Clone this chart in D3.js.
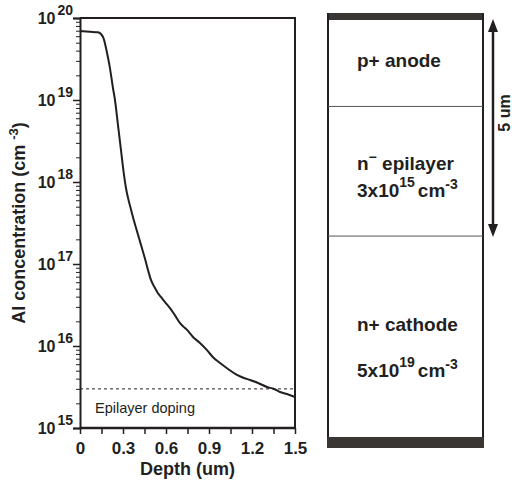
<!DOCTYPE html>
<html><head><meta charset="utf-8">
<script src="https://cdn.jsdelivr.net/npm/d3@7"></script>
<style>body{margin:0;background:#fff}svg{display:block}text{font-family:"Liberation Sans",Arial,sans-serif;fill:#231f20}</style>
</head><body>
<svg id="c" width="512" height="485"></svg>
<script>
// ---- data ----
const depth = [0,0.07,0.126,0.16,0.188,0.209,0.23,0.244,0.265,0.286,0.307,0.321,0.335,0.356,0.377,0.398,0.426,0.454,0.474,0.495,0.523,0.544,0.565,0.593,0.628,0.663,0.698,0.747,0.788,0.837,0.886,0.928,0.977,1.033,1.095,1.144,1.186,1.242,1.305,1.354,1.395,1.444,1.5];
const conc = [6.94e19,6.8e19,6.7e19,5.9e19,3.8e19,2.45e19,1.4e19,1e19,4.95e18,2.45e18,1.22e18,8.4e17,6.4e17,4.6e17,3.35e17,2.5e17,1.7e17,1.15e17,8.5e16,6.4e16,5.1e16,4.4e16,3.96e16,3.44e16,2.9e16,2.36e16,1.9e16,1.57e16,1.29e16,1.09e16,8.9e15,7.3e15,6.2e15,5.25e15,4.43e15,4.07e15,3.85e15,3.54e15,3.16e15,2.99e15,2.75e15,2.6e15,2.39e15];
const xTicks = [0,0.3,0.6,0.9,1.2,1.5];
const xTickLabels = ["0","0.3","0.6","0.9","1.2","1.5"];
const yExponents = [15,16,17,18,19,20];
const epiDoping = 3e15;
const layerNames = ["p+ anode","n\u2212 epilayer","n+ cathode"];
const layerThickness = [2,3,4.65]; // um
const layerDopingBase = [null,"3x10","5x10"];
const layerDopingExp = [null,"15","19"];
const arrowLabel = "5 um";

const ink = "#231f20";
const svg = d3.select("#c");

// ---- left chart ----
const x = d3.scaleLinear().domain([0,1.5]).range([80,295]);
const y = d3.scaleLog().domain([1e15,1e20]).range([428,18]);

// dashed epilayer line
svg.append("line").attr("x1",x(0)).attr("x2",x(1.5)).attr("y1",y(epiDoping)).attr("y2",y(epiDoping))
  .attr("stroke",ink).attr("stroke-width",1).attr("stroke-dasharray","3,3");
svg.append("text").attr("x",95).attr("y",413).attr("font-size",14.5).text("Epilayer doping");

// frame top/right
svg.append("path").attr("d",`M${x(0)},${y(1e20)}H${x(1.5)}V${y(1e15)}`).attr("fill","none").attr("stroke",ink).attr("stroke-width",2);

// y axis with log minor ticks
const yMinor = [];
for (let e=15;e<20;e++) for (let m=2;m<=9;m++) yMinor.push(m*Math.pow(10,e));
const yAxis = d3.axisLeft(y).tickValues(yExponents.map(e=>Math.pow(10,e))).tickSize(7).tickFormat("");
const gy = svg.append("g").attr("transform",`translate(${x(0)},0)`).call(yAxis);
gy.selectAll("line").attr("stroke",ink).attr("stroke-width",1.5);
gy.select(".domain").attr("stroke",ink).attr("stroke-width",2);
const gyMinor = svg.append("g").attr("transform",`translate(${x(0)},0)`).call(d3.axisLeft(y).tickValues(yMinor).tickSize(4).tickFormat(""));
gyMinor.select(".domain").remove();
gyMinor.selectAll("line").attr("stroke",ink).attr("stroke-width",1);

yExponents.forEach(e=>{
  const t = svg.append("text").attr("x",73).attr("y",y(Math.pow(10,e))+6).attr("text-anchor","end")
    .attr("font-weight","bold").attr("font-size",16);
  t.append("tspan").text("10");
  t.append("tspan").attr("dx",2).attr("dy",-9).attr("font-size",14).text(String(e));
});

// x axis
const xMinor = d3.range(0.15,1.5,0.3);
const xAxis = d3.axisBottom(x).tickValues(xTicks).tickSize(6).tickFormat((d,i)=>xTickLabels[i]);
const gx = svg.append("g").attr("transform",`translate(0,${y(1e15)})`).call(xAxis);
gx.select(".domain").attr("stroke",ink).attr("stroke-width",2.5).attr("d",`M${x(0)},0H${x(1.5)}`);
gx.selectAll("line").attr("stroke",ink).attr("stroke-width",1.5);
gx.selectAll("text").attr("font-family","Liberation Sans, Arial, sans-serif").attr("font-weight","bold").attr("font-size",17).attr("fill",ink).attr("dy",0).attr("y",26);
const gxm = svg.append("g").attr("transform",`translate(0,${y(1e15)})`).call(d3.axisBottom(x).tickValues(xMinor).tickSize(6).tickFormat(""));
gxm.select(".domain").remove();
gxm.selectAll("line").attr("stroke",ink).attr("stroke-width",1.5);

svg.append("text").attr("x",(x(0)+x(1.5))/2).attr("y",475).attr("text-anchor","middle")
  .attr("font-weight","bold").attr("font-size",18).text("Depth (um)");

const yt = svg.append("text").attr("transform",`translate(25,${(y(1e15)+y(1e20))/2}) rotate(-90)`)
  .attr("text-anchor","middle").attr("font-weight","bold").attr("font-size",18);
yt.append("tspan").text("Al concentration (cm ");
yt.append("tspan").attr("dy",-7).attr("font-size",13).text("-3");
yt.append("tspan").attr("dy",7).text(")");

// curve
const line = d3.line().x((d,i)=>x(depth[i])).y(d=>y(d)).curve(d3.curveMonotoneX);
svg.append("path").datum(conc).attr("d",line).attr("fill","none").attr("stroke",ink).attr("stroke-width",2).attr("stroke-linejoin","round");

// ---- right panel: layer stack ----
const total = d3.sum(layerThickness);
const ys = d3.scaleLinear().domain([0,total]).range([20,437]);
const bx0 = 328, bx1 = 483;
const cum = [0]; layerThickness.forEach(t=>cum.push(cum[cum.length-1]+t));

// bands
svg.append("rect").attr("x",bx0-1).attr("y",13).attr("width",bx1-bx0+2).attr("height",ys(0)-13).attr("fill","#3a3634");
svg.append("rect").attr("x",bx0-1).attr("y",ys(total)).attr("width",bx1-bx0+2).attr("height",11).attr("fill","#3a3634");
// sides
svg.append("line").attr("x1",bx0).attr("x2",bx0).attr("y1",13).attr("y2",ys(total)).attr("stroke",ink).attr("stroke-width",2);
svg.append("line").attr("x1",bx1).attr("x2",bx1).attr("y1",13).attr("y2",ys(total)).attr("stroke",ink).attr("stroke-width",2);
// boundaries
cum.slice(1,-1).forEach(c=>{
  svg.append("line").attr("x1",bx0).attr("x2",bx1).attr("y1",ys(c)).attr("y2",ys(c)).attr("stroke","#555").attr("stroke-width",1);
});

// labels
const nameY = [67,170,331];
const dopY = [null,197,377];
layerNames.forEach((n,i)=>{
  const t = svg.append("text").attr("x",357).attr("y",nameY[i]).attr("font-weight","bold").attr("font-size",19);
  if (i===1){
    t.append("tspan").text("n");
    t.append("tspan").attr("dy",-8).attr("font-size",14).text("\u2212");
    t.append("tspan").attr("dy",8).text(" epilayer");
  } else t.text(n);
  if (layerDopingBase[i]){
    const d = svg.append("text").attr("x",357).attr("y",dopY[i]).attr("font-weight","bold").attr("font-size",19);
    d.append("tspan").text(layerDopingBase[i]);
    d.append("tspan").attr("dy",-10).attr("font-size",14).text(layerDopingExp[i]);
    d.append("tspan").attr("dy",10).attr("dx",3).text("cm");
    d.append("tspan").attr("dy",-8).attr("font-size",14).text("-3");
  }
});

// arrow
const ax = 493;
const ay0 = ys(0), ay1 = ys(cum[2]);
svg.append("line").attr("x1",ax).attr("x2",ax).attr("y1",ay0+10).attr("y2",ay1-10).attr("stroke",ink).attr("stroke-width",2.5);
svg.append("path").attr("d",`M${ax},${ay0-1}L${ax-5},${ay0+12}L${ax+5},${ay0+12}Z`).attr("fill",ink);
svg.append("path").attr("d",`M${ax},${ay1+1}L${ax-5},${ay1-12}L${ax+5},${ay1-12}Z`).attr("fill",ink);
svg.append("text").attr("transform",`translate(510,113) rotate(-90)`).attr("text-anchor","middle")
  .attr("font-weight","bold").attr("font-size",16).text(arrowLabel);
</script>
</body></html>
